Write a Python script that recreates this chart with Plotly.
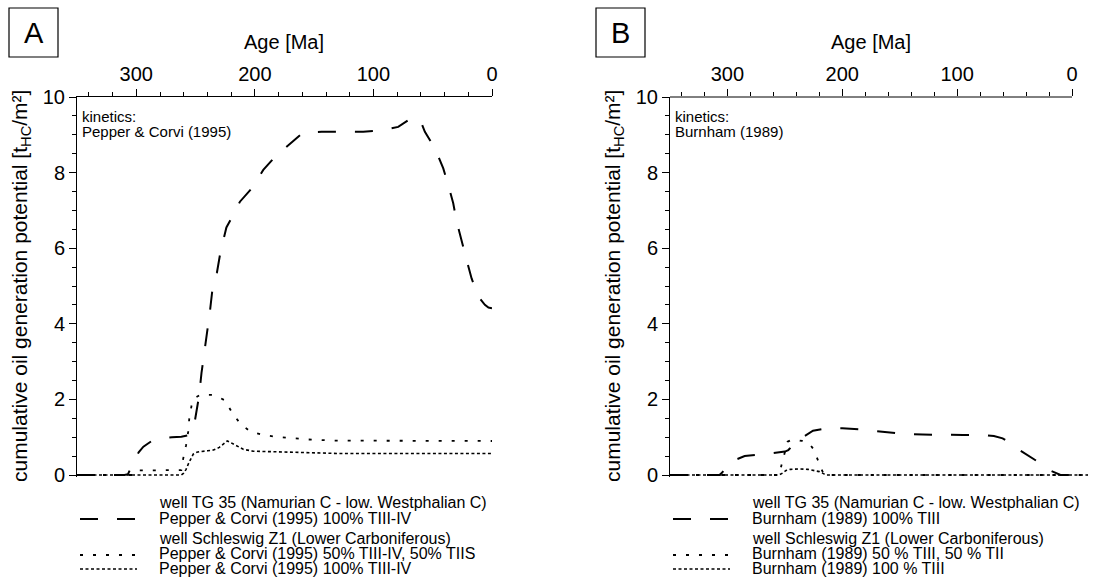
import plotly.graph_objects as go

W, H = 1098, 584
FONT = "Liberation Sans, Arial, sans-serif"

# ---------------- data (Age in Ma, potential in t_HC/m²) ----------------
# Panel A – kinetics Pepper & Corvi (1995)
a_tg35_age = [350, 310, 307, 303, 298, 294, 287, 280, 270, 262, 256, 252, 250.5, 249, 247, 245, 241, 238, 236,
              232, 229, 224, 219.6, 212.6, 202.7, 192.9, 183, 170.4, 159.2, 143.7, 108.6, 94.5, 79.1, 70, 65,
              60, 56.6, 48.1, 41.1, 36.9, 32.7, 29.8, 25.6, 21.4, 17.2, 11.6, 6, 3, 0]
a_tg35_val = [0, 0, 0.02, 0.3, 0.6, 0.75, 0.9, 0.97, 1.0, 1.01, 1.05, 1.2, 1.45, 1.7, 2.1, 2.7, 3.55, 4.3, 4.85,
              5.35, 5.9, 6.55, 6.8, 7.23, 7.58, 8.07, 8.42, 8.77, 9.06, 9.08, 9.08, 9.11, 9.21, 9.4, 9.46,
              9.35, 9.08, 8.64, 8.11, 7.67, 7.19, 6.7, 6.17, 5.69, 5.2, 4.72, 4.5, 4.43, 4.41]

a_sz50_age = [350, 301, 298, 290, 270, 262, 260.4, 258, 256.2, 255.3, 253.3, 250, 246, 240, 236, 230, 225,
              219.6, 212.6, 204, 193, 181.6, 170, 155, 134, 0]
a_sz50_val = [0, 0, 0.12, 0.12, 0.12, 0.13, 0.44, 0.79, 1.15, 1.5, 1.85, 2.05, 2.12, 2.13, 2.12, 2.05, 1.97,
              1.67, 1.37, 1.15, 1.06, 1.01, 0.98, 0.94, 0.91, 0.9]

a_sz100_age = [350, 262, 260, 258, 256, 254, 252, 249, 246, 240, 235, 230, 226, 223.3, 220, 216.8, 209.8, 201.4,
               190, 170, 150, 130, 0]
a_sz100_val = [0, 0, 0.05, 0.15, 0.3, 0.45, 0.55, 0.6, 0.62, 0.64, 0.66, 0.73, 0.83, 0.9, 0.85, 0.79, 0.68, 0.63,
               0.62, 0.61, 0.59, 0.57, 0.57]

# Panel B – kinetics Burnham (1989)
b_tg35_age = [350, 307, 305, 302, 299, 295, 290, 285, 275, 267, 260, 254, 250, 247, 244, 240, 235, 230, 225.5,
              218, 210, 200, 193, 185, 176, 168, 159, 144, 130, 115, 95, 78, 68, 60.4, 53, 45.6, 39, 31.5, 25,
              19.8, 14, 10, 0, -14]
b_tg35_val = [0, 0, 0.05, 0.17, 0.28, 0.38, 0.45, 0.5, 0.53, 0.56, 0.57, 0.59, 0.62, 0.66, 0.75, 0.88, 0.99,
              1.09, 1.17, 1.21, 1.24, 1.24, 1.23, 1.21, 1.18, 1.15, 1.12, 1.08, 1.07, 1.06, 1.06, 1.06, 1.03,
              0.97, 0.83, 0.66, 0.53, 0.4, 0.26, 0.13, 0.05, 0, 0, 0]

b_sz50_age = [350, 255, 253.3, 250.4, 247.6, 245, 240, 235, 228.5, 225, 223, 220, 217.2, 215, -14]
b_sz50_val = [0, 0, 0.22, 0.57, 0.88, 0.92, 0.93, 0.9, 0.82, 0.68, 0.53, 0.3, 0.09, 0, 0]

b_sz100_age = [350, 255, 252, 249, 245, 238, 230, 225, 220, 216, 214, -14]
b_sz100_val = [0, 0, 0.05, 0.12, 0.15, 0.16, 0.15, 0.13, 0.09, 0.03, 0, 0]

x_tickvals = [300, 200, 100, 0]
y_tickvals = [0, 2, 4, 6, 8, 10]

panel_letters = ["A", "B"]
kinetics = ["Pepper & Corvi (1995)", "Burnham (1989)"]
legend_rows = [
    ["well TG 35 (Namurian C - low. Westphalian C)", "Pepper & Corvi (1995) 100% TIII-IV",
     "well Schleswig Z1 (Lower Carboniferous)", "Pepper & Corvi (1995) 50% TIII-IV, 50% TIIS",
     "Pepper & Corvi (1995) 100% TIII-IV"],
    ["well TG 35 (Namurian C - low. Westphalian C)", "Burnham (1989) 100% TIII",
     "well Schleswig Z1 (Lower Carboniferous)", "Burnham (1989) 50 % TIII, 50 % TII",
     "Burnham (1989) 100 % TIII"],
]

# ---------------- styles ----------------
LONG = dict(color="black", width=2, dash="18px,19px")
SPARSE = dict(color="black", width=1.8, dash="3px,10px")
DENSE = dict(color="black", width=1.6, dash="3px,2.5px")


def px(x):
    return x / W


def py(y):
    return 1 - y / H


fig = go.Figure()
series = [
    ("x", "y", a_tg35_age, a_tg35_val, LONG),
    ("x", "y", a_sz50_age, a_sz50_val, SPARSE),
    ("x", "y", a_sz100_age, a_sz100_val, DENSE),
    ("x2", "y2", b_tg35_age, b_tg35_val, LONG),
    ("x2", "y2", b_sz50_age, b_sz50_val, SPARSE),
    ("x2", "y2", b_sz100_age, b_sz100_val, DENSE),
]
for xa, ya, xs, ys, ln in series:
    fig.add_trace(go.Scatter(x=xs, y=ys, xaxis=xa, yaxis=ya, mode="lines", line=ln,
                             showlegend=False, hoverinfo="skip"))

y_bot, y_top = 475, 97
ext = 0.06
ppu = (y_bot - y_top) / 10
ydom = [py(y_bot + ext * ppu), py(y_top)]

common_x = dict(side="top", tickmode="array", tickvals=x_tickvals, ticks="outside", ticklen=7,
                tickwidth=1, tickcolor="black", showgrid=False, zeroline=False,
                automargin=False,
                tickfont=dict(size=20, family=FONT, color="black"),
                minor=dict(tick0=0, dtick=20, ticks="outside", ticklen=4, tickwidth=1, tickcolor="black",
                           showgrid=False))
common_y = dict(range=[-ext, 10], tickmode="array", tickvals=y_tickvals, ticks="outside", ticklen=7,
                tickwidth=1, tickcolor="black", showgrid=False, zeroline=False, showline=True,
                linecolor="black", linewidth=1, domain=ydom, automargin=False,
                tickfont=dict(size=20, family=FONT, color="black"),
                minor=dict(tick0=0, dtick=0.5, ticks="outside", ticklen=4, tickwidth=1, tickcolor="black",
                           showgrid=False))

axA_l, axA_r = 77, 492
axB_l, axB_r0 = 670, 1072
b_min = -14
axB_r = axB_r0 + (axB_r0 - axB_l) / 350 * (-b_min)

fig.update_layout(
    template="none",
    width=W, height=H, margin=dict(l=0, r=0, t=0, b=0, pad=0, autoexpand=False),
    paper_bgcolor="white", plot_bgcolor="white", showlegend=False,
    font=dict(family=FONT, color="black"),
    xaxis=dict(domain=[px(axA_l), px(axA_r)], range=[350, 0], anchor="y", showline=True,
               linecolor="black", linewidth=1, **common_x),
    yaxis=dict(anchor="x", **common_y),
    xaxis2=dict(domain=[px(axB_l), px(axB_r)], range=[350, b_min], anchor="y2", showline=False,
                **common_x),
    yaxis2=dict(anchor="x2", **common_y),
)

shapes = []
annotations = []
# top axis line of panel B (ends at 0 Ma)
shapes.append(dict(type="line", xref="x2", yref="y2 domain", x0=350, x1=0, y0=1, y1=1,
                   line=dict(color="black", width=1)))


def note(text, x, y, size, xanchor="center", **kw):
    annotations.append(dict(text=text, xref="paper", yref="paper", x=px(x), y=py(y),
                            xanchor=xanchor, yanchor="middle", showarrow=False,
                            font=dict(size=size, family=FONT, color="black"), **kw))


ytitle = "cumulative oil generation potential [t<sub>HC</sub>/m²]"
for i, (left, right, box_x) in enumerate([(axA_l, axA_r, 9), (axB_l, axB_r0, 596)]):
    # panel letter box
    shapes.append(dict(type="rect", xref="paper", yref="paper", x0=px(box_x), x1=px(box_x + 49),
                       y0=py(57), y1=py(8), line=dict(color="black", width=1.2)))
    note(panel_letters[i], box_x + 24.5, 33, 29)
    # axis titles
    note("Age [Ma]", (left + right) / 2, 42, 20)
    note(ytitle, left - 56, 286, 21, textangle=-90)
    # kinetics note
    note("kinetics:", left + 3, 116, 15, xanchor="left")
    note(kinetics[i], left + 3, 131, 15, xanchor="left")
    # legend
    lx0 = left + 3
    lx1 = lx0 + 57
    tx = lx0 + 77
    rows_y = [503, 518, 538, 553, 568]
    for txt, yy in zip(legend_rows[i], rows_y):
        note(txt, tx, yy, 16, xanchor="left")
    for yy, ln in [(519, LONG), (555, SPARSE), (569, DENSE)]:
        shapes.append(dict(type="line", xref="paper", yref="paper", x0=px(lx0), x1=px(lx1),
                           y0=py(yy), y1=py(yy), line=ln))

fig.update_layout(shapes=shapes, annotations=annotations)
fig.write_html("out.html")
